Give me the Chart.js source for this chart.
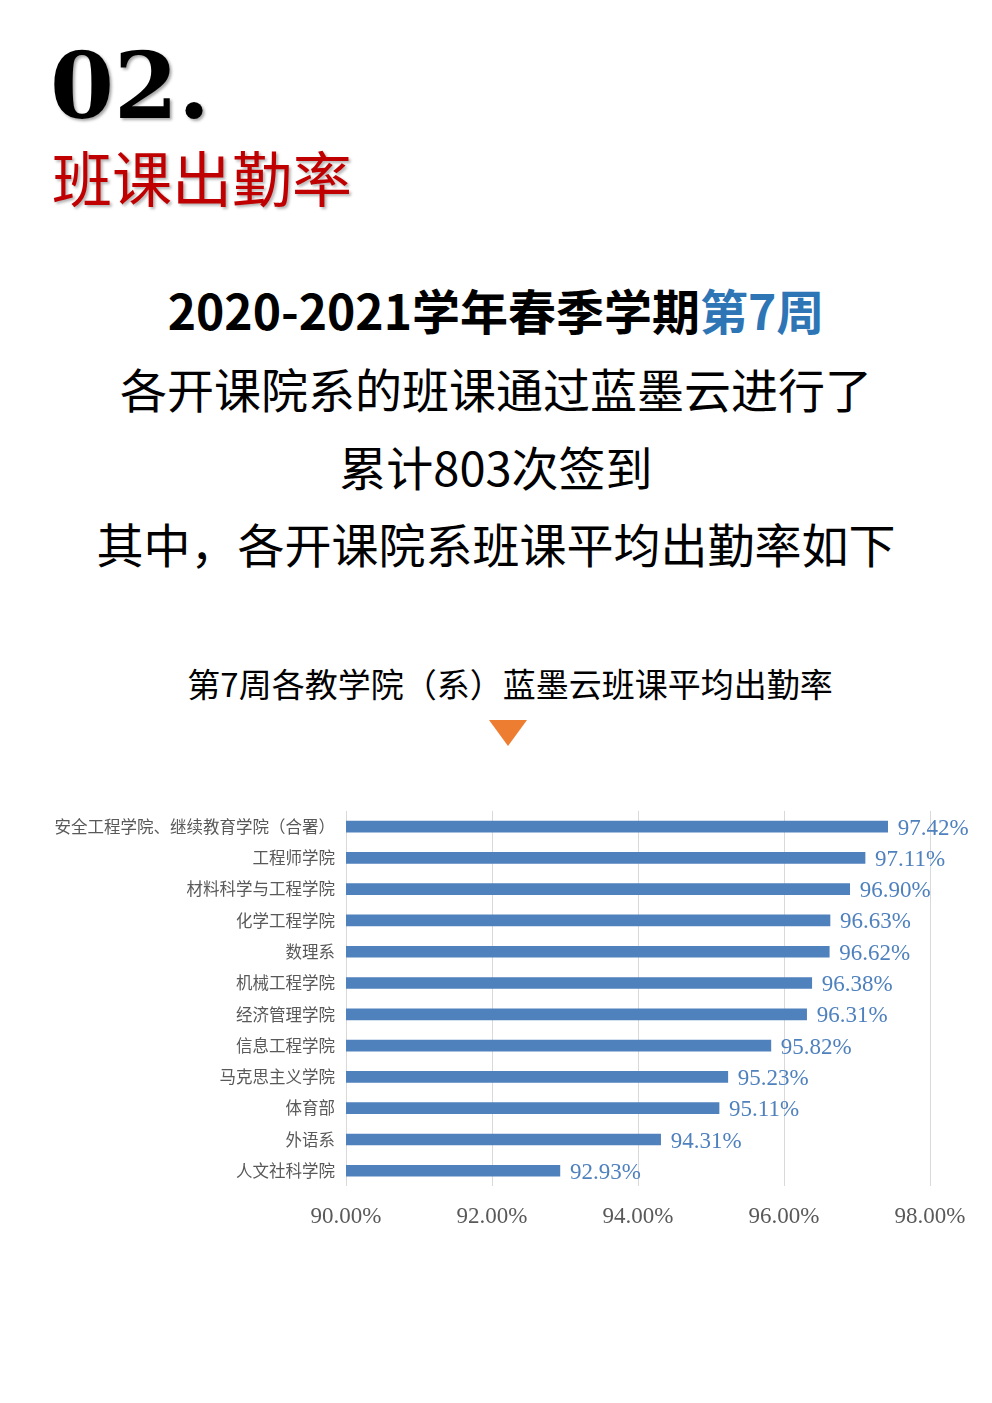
<!DOCTYPE html>
<html>
<head>
<meta charset="utf-8">
<script src="https://cdn.jsdelivr.net/npm/chart.js@4.4.1/dist/chart.umd.min.js"></script>
<style>
  html,body{margin:0;padding:0;background:#fff;}
  body{width:992px;height:1403px;position:relative;overflow:hidden;font-family:"Noto Sans CJK SC","Noto Sans",sans-serif;}
  .t{position:absolute;left:0;width:992px;text-align:center;line-height:1;white-space:nowrap;color:#000;}
  #num{position:absolute;left:50px;top:40px;font-family:"DejaVu Serif",serif;font-weight:bold;font-size:92px;line-height:1;color:#000;text-shadow:2px 2px 3px rgba(0,0,0,0.35);}
  #red{position:absolute;left:52px;top:146px;font-size:60px;line-height:1;color:#C00000;text-shadow:2px 2px 3px rgba(0,0,0,0.3);}
  #tri{position:absolute;left:489px;top:720px;width:0;height:0;border-left:19px solid transparent;border-right:19px solid transparent;border-top:26px solid #ED7D31;}
  #wrap{position:absolute;left:0;top:790px;width:992px;height:458px;}
</style>
</head>
<body>
<div id="num">02.</div>
<div id="red">班课出勤率</div>
<div class="t" style="top:285px;font-size:48px;font-weight:bold;">2020-2021学年春季学期<span style="color:#2E75B6">第7周</span></div>
<div class="t" style="top:364px;font-size:47px;">各开课院系的班课通过蓝墨云进行了</div>
<div class="t" style="top:442px;font-size:47px;">累计803次签到</div>
<div class="t" style="top:519px;font-size:47px;">其中，各开课院系班课平均出勤率如下</div>
<div class="t" style="top:667px;font-size:33px;left:14px;">第7周各教学院（系）蓝墨云班课平均出勤率</div>
<div id="tri"></div>
<div id="wrap"><canvas id="chartRate"></canvas></div>
<script>
const colleges=['安全工程学院、继续教育学院（合署）','工程师学院','材料科学与工程学院','化学工程学院','数理系','机械工程学院','经济管理学院','信息工程学院','马克思主义学院','体育部','外语系','人文社科学院'];
const rates=[97.42,97.11,96.90,96.63,96.62,96.38,96.31,95.82,95.23,95.11,94.31,92.93];
const xTicks=[90,92,94,96,98];

// 数据标签
const valueLabels={
  id:'valueLabels',
  afterDatasetsDraw(chart){
    const ctx=chart.ctx;
    const meta=chart.getDatasetMeta(0);
    ctx.save();
    ctx.font='23px "Liberation Serif", serif';
    ctx.fillStyle='#4F81BD';
    ctx.textBaseline='middle';
    ctx.textAlign='left';
    meta.data.forEach((bar,i)=>{
      ctx.fillText(rates[i].toFixed(2)+'%',bar.x+10,bar.y+2);
    });
    ctx.restore();
  }
};

new Chart(document.getElementById('chartRate'),{
  type:'bar',
  data:{labels:colleges,datasets:[{data:rates,backgroundColor:'#4F81BD',barThickness:11,borderWidth:0}]},
  options:{
    indexAxis:'y',responsive:true,maintainAspectRatio:false,animation:false,
    layout:{padding:{top:10,right:62,left:0,bottom:0}},
    plugins:{legend:{display:false},tooltip:{enabled:false}},
    scales:{
      x:{min:xTicks[0],max:xTicks[xTicks.length-1],
         afterBuildTicks:s=>{s.ticks=xTicks.map(v=>({value:v}));},
         grid:{color:'#D9D9D9',drawTicks:false},border:{display:false},
         ticks:{padding:17,color:'#595959',font:{family:'"Liberation Serif", serif',size:23},callback:v=>v.toFixed(2)+'%'}},
      y:{grid:{display:false,drawTicks:false},border:{display:false},
         afterFit:s=>{s.width=346;},
         ticks:{padding:11,color:'#595959',font:{family:'"Noto Sans CJK SC", sans-serif',size:16.5}}}
    }
  },
  plugins:[valueLabels]
});
</script>
</body>
</html>
